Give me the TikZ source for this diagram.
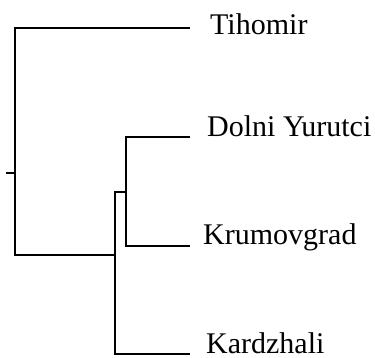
\documentclass[tikz,border=0pt]{standalone}
\usepackage{fontspec}
\setmainfont{Liberation Serif}
\begin{document}
\begin{tikzpicture}[x=1pt,y=-1pt,
  branch/.style={line width=2pt,line cap=rect,line join=miter,black},
  leaf/.style={anchor=base west,inner sep=0pt,font=\fontsize{30}{36}\selectfont}]
\useasboundingbox (0,0) rectangle (375,358);
% internal nodes
\coordinate (root) at (7,173);
\coordinate (a) at (15,173);
\coordinate (b) at (115,192);
\coordinate (c) at (126,192);
% leaf line ends
\coordinate (t) at (189,28);
\coordinate (d) at (189,137);
\coordinate (k) at (189,246);
\coordinate (z) at (189,354);
% labels
\node[leaf] (tl) at (210,35) {Tihomir};
\node[leaf] (dl) at (207,137) {Dolni Yurutci};
\node[leaf] (kl) at (203,245) {Krumovgrad};
\node[leaf] (zl) at (206,353) {Kardzhali};
% branches
\draw[branch] (root) -- (a);
\draw[branch] (t) -| (a) |- (b |- 0,255) -- (b);
\draw[branch] (b) -- (c);
\draw[branch] (z) -| (b);
\draw[branch] (d) -| (c) |- (k);
\end{tikzpicture}
\end{document}
